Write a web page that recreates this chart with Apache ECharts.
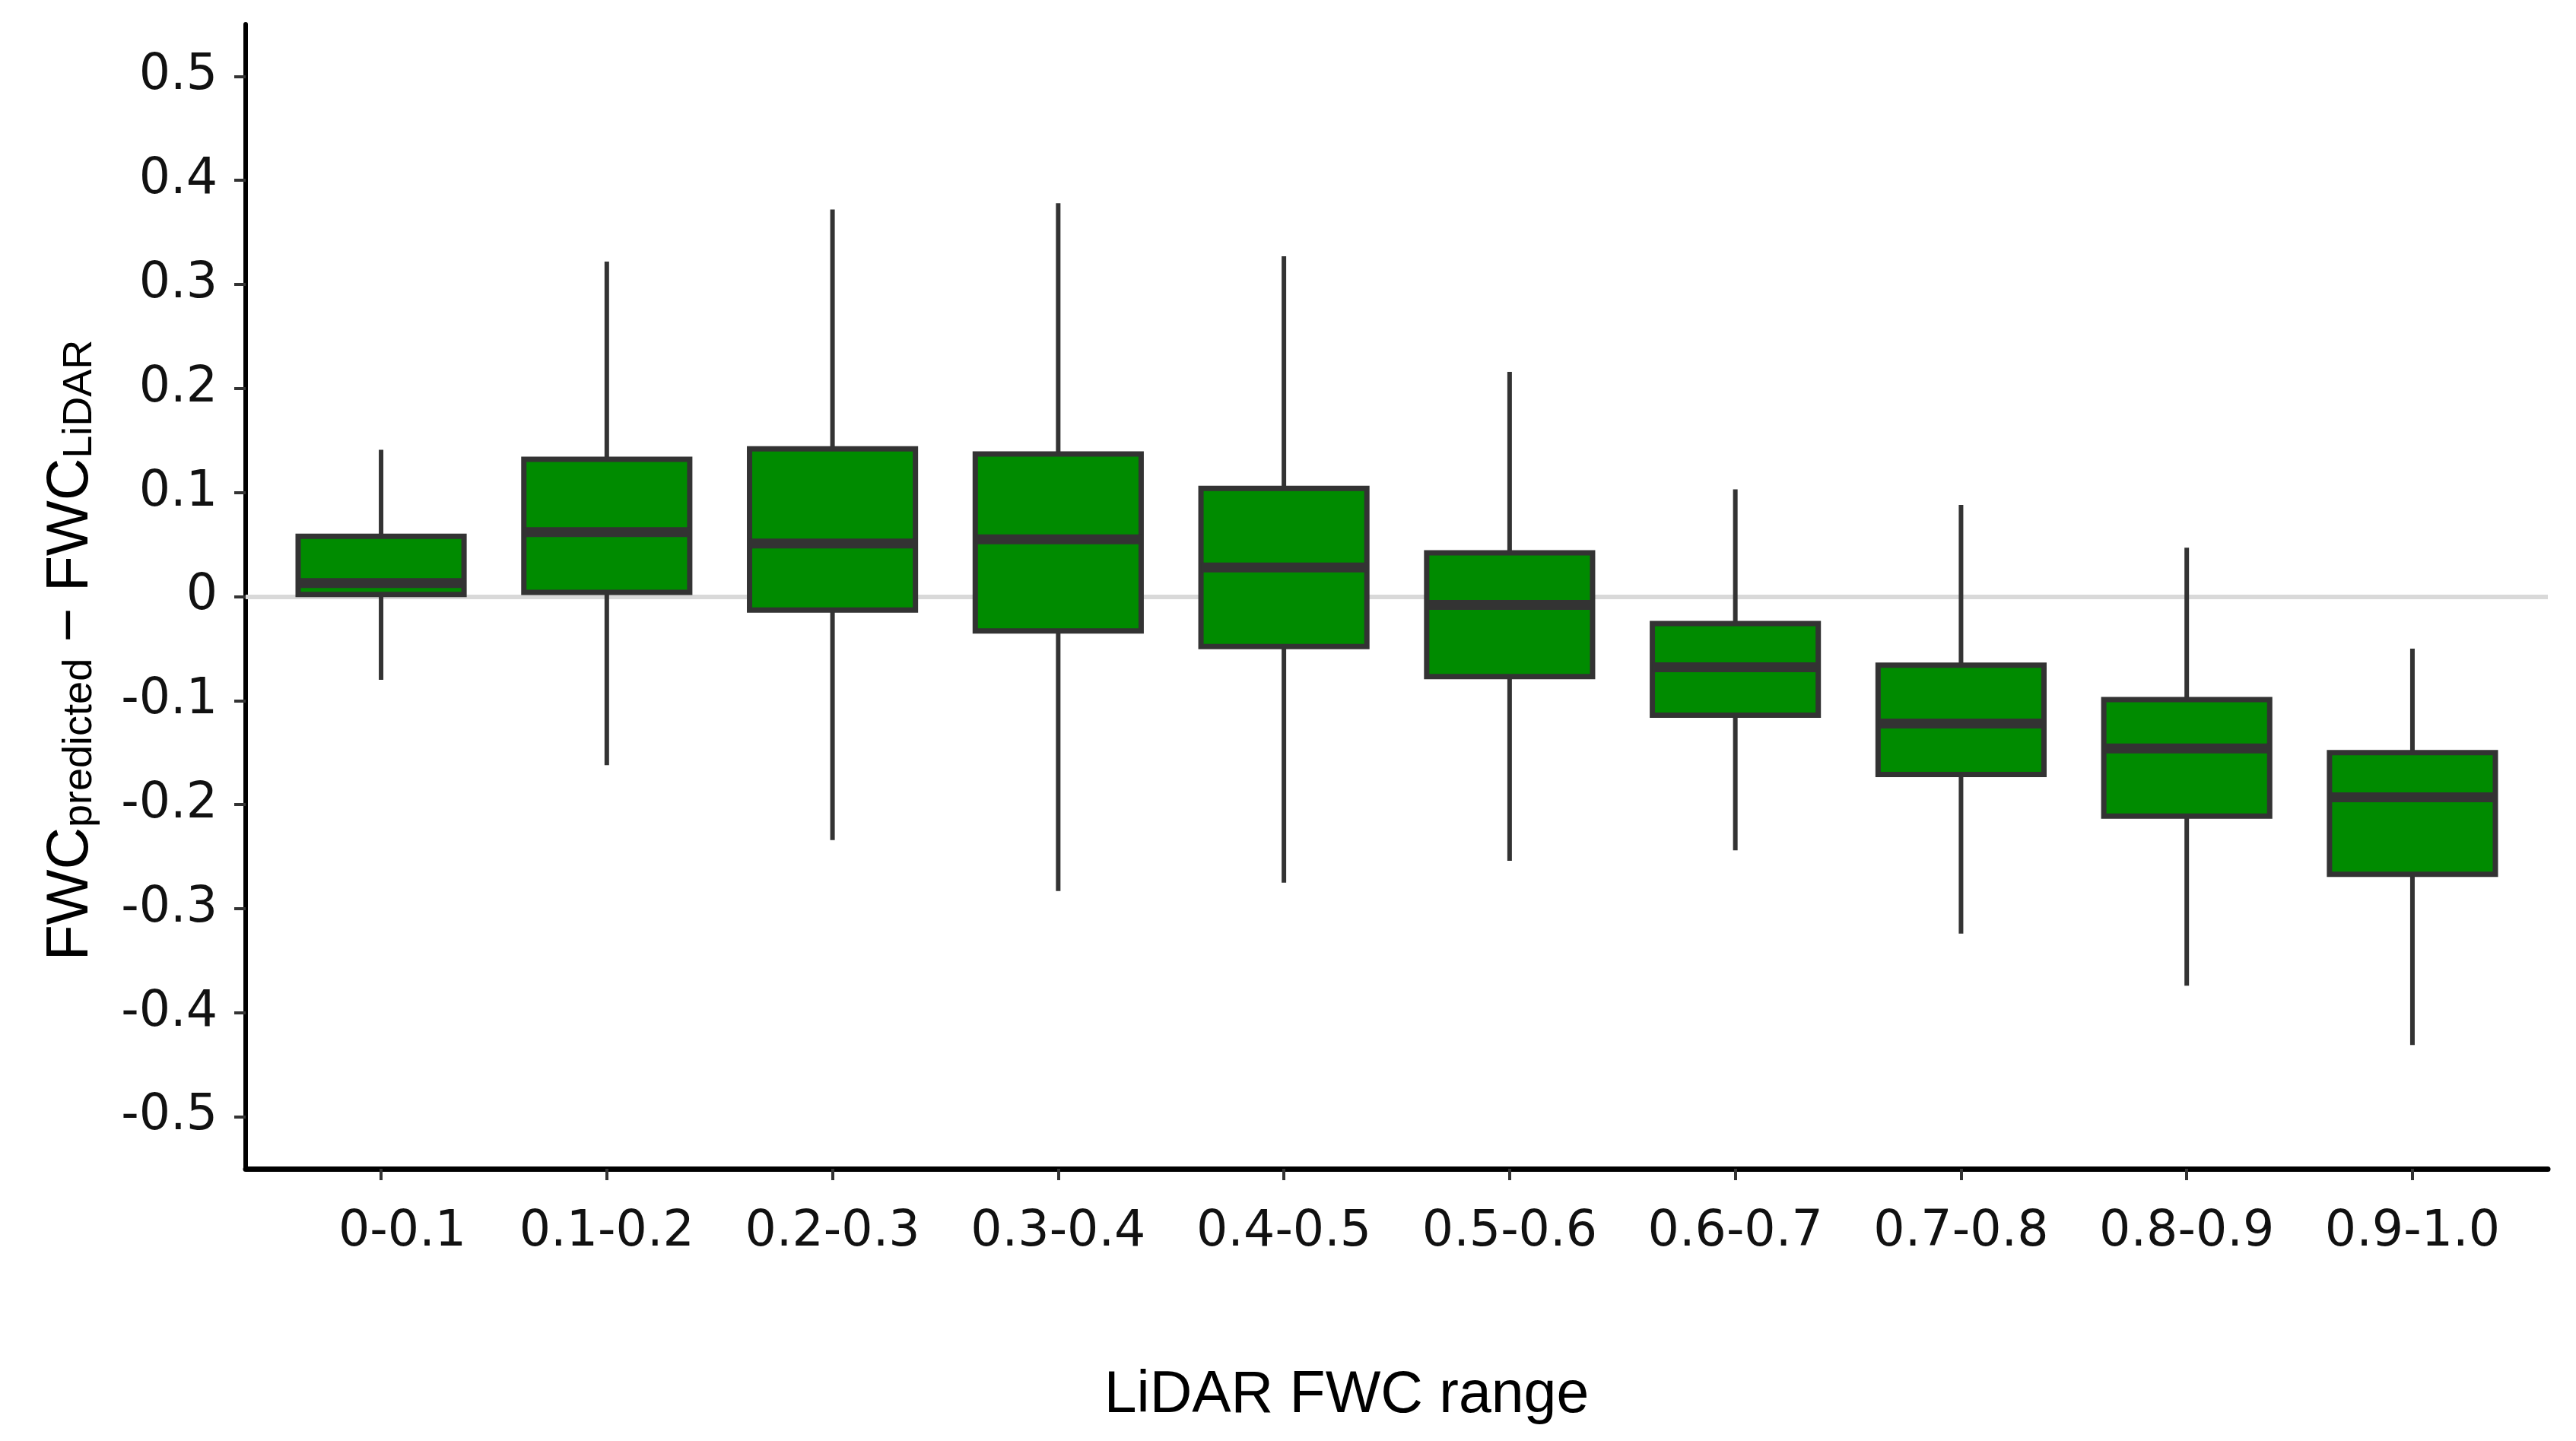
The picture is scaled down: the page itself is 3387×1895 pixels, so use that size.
<!DOCTYPE html>
<html>
<head>
<meta charset="utf-8">
<script src="https://cdn.jsdelivr.net/npm/echarts@6/dist/echarts.min.js"></script>
<style>
html,body{margin:0;padding:0;background:#fff;}
#chart{width:3387px;height:1895px;}
</style>
</head>
<body>
<div id="chart"></div>
<script>
// Data
const categories = ['0-0.1','0.1-0.2','0.2-0.3','0.3-0.4','0.4-0.5','0.5-0.6','0.6-0.7','0.7-0.8','0.8-0.9','0.9-1.0'];
const whiskerLow  = [-0.080, -0.162, -0.234, -0.283, -0.275, -0.254, -0.244, -0.324, -0.374, -0.431];
const q1Values    = [ 0.002,  0.004, -0.013, -0.033, -0.048, -0.077, -0.114, -0.171, -0.211, -0.267];
const medians     = [ 0.013,  0.062,  0.051,  0.055,  0.028, -0.008, -0.068, -0.122, -0.146, -0.193];
const q3Values    = [ 0.058,  0.132,  0.142,  0.137,  0.104,  0.042, -0.026, -0.066, -0.099, -0.150];
const whiskerHigh = [ 0.141,  0.322,  0.372,  0.378,  0.327,  0.216,  0.103,  0.088,  0.047, -0.050];
const yTickValues = [-0.5, -0.4, -0.3, -0.2, -0.1, 0, 0.1, 0.2, 0.3, 0.4, 0.5];

const positions = categories.map((c, i) => i + 1);
const boxData = categories.map((c, i) => [positions[i], whiskerLow[i], q1Values[i], medians[i], q3Values[i], whiskerHigh[i]]);

const chart = echarts.init(document.getElementById('chart'));
const titleFont = '"Liberation Sans", Arial, sans-serif';
const tickFont = '"DejaVu Sans", Verdana, sans-serif';

const option = {
  backgroundColor: '#ffffff',
  animation: false,
  grid: { left: 323, right: 37, top: 32, bottom: 358, containLabel: false },
  graphic: [{
    type: 'text',
    x: 76,
    y: 855,
    rotation: Math.PI / 2,
    silent: true,
    style: {
      text: '{m|FWC}{s|predicted}{m| − FWC}{s|LiDAR}',
      align: 'center',
      verticalAlign: 'middle',
      rich: {
        m: { fontSize: 77, fontFamily: titleFont, fill: '#000', lineHeight: 112, verticalAlign: 'bottom' },
        s: { fontSize: 54, fontFamily: titleFont, fill: '#000', lineHeight: 77, verticalAlign: 'bottom' }
      }
    }
  }],
  xAxis: {
    type: 'value',
    min: 0.4,
    max: 10.6,
    splitLine: { show: false },
    axisLine: { show: true, onZero: false, lineStyle: { color: '#000', width: 7 } },
    axisTick: { show: true, customValues: positions, length: 15, lineStyle: { color: '#333', width: 4 } },
    axisLabel: {
      customValues: positions,
      margin: 52,
      fontSize: 65,
      fontFamily: tickFont,
      color: '#111',
      formatter: function (v) {
        const idx = Math.round(v) - 1;
        return idx === 0 ? '{f|' + categories[idx] + '}' : categories[idx];
      },
      rich: { f: { fontSize: 65, fontFamily: tickFont, color: '#111', padding: [0, 0, 0, 56] } }
    },
    name: 'LiDAR FWC range',
    nameLocation: 'middle',
    nameGap: 260,
    nameTextStyle: { fontSize: 77, fontFamily: titleFont, color: '#000', padding: [0, 132, 0, 0] }
  },
  yAxis: {
    type: 'value',
    min: -0.55,
    max: 0.55,
    splitLine: { show: false },
    axisLine: { show: true, onZero: false, lineStyle: { color: '#000', width: 6 } },
    axisTick: { show: true, customValues: yTickValues, length: 15, lineStyle: { color: '#333', width: 4 } },
    axisLabel: {
      customValues: yTickValues,
      margin: 37,
      fontSize: 65,
      fontFamily: tickFont,
      color: '#111',
      formatter: function (v) { return Math.abs(v) < 1e-9 ? '0' : v.toFixed(1); }
    }
  },
  series: [{
    type: 'custom',
    z: 2,
    data: boxData,
    encode: { x: 0, y: [1, 2, 3, 4, 5] },
    renderItem: function (params, api) {
      const x = api.value(0);
      const lo = api.coord([x, api.value(1)]);
      const q1 = api.coord([x, api.value(2)]);
      const md = api.coord([x, api.value(3)]);
      const q3 = api.coord([x, api.value(4)]);
      const hi = api.coord([x, api.value(5)]);
      const halfW = api.size([0.735, 0])[0] / 2;
      return {
        type: 'group',
        children: [
          { type: 'line', shape: { x1: lo[0], y1: lo[1], x2: hi[0], y2: hi[1] }, style: { stroke: '#333333', lineWidth: 6 } },
          { type: 'rect', shape: { x: q1[0] - halfW, y: q3[1], width: 2 * halfW, height: q1[1] - q3[1] }, style: { fill: '#008B00', stroke: '#333333', lineWidth: 7 } },
          { type: 'line', shape: { x1: md[0] - halfW, y1: md[1], x2: md[0] + halfW, y2: md[1] }, style: { stroke: '#333333', lineWidth: 13 } }
        ]
      };
    },
    markLine: {
      silent: true,
      z: 1,
      symbol: 'none',
      label: { show: false },
      lineStyle: { color: '#D9D9D9', width: 6, type: 'solid' },
      data: [{ yAxis: 0 }]
    }
  }]
};
chart.setOption(option);
</script>
</body>
</html>
